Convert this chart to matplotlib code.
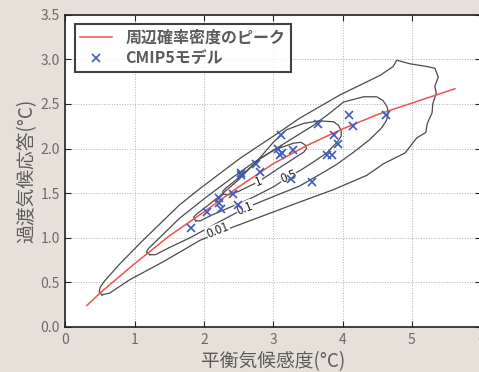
#!/usr/bin/env python
import numpy as np
import matplotlib
matplotlib.use('Agg')
from matplotlib import pyplot as plt

plt.rcParams['font.family'] = ['Noto Sans CJK JP', 'DejaVu Sans']

# peak of the marginal probability density
peak_x = [0.31, 0.5, 1.0, 1.5, 2.0, 2.5, 3.0, 3.5, 4.0, 4.5, 5.0, 5.62]
peak_y = [0.24, 0.38, 0.71, 1.02, 1.29, 1.57, 1.83, 2.04, 2.22, 2.38, 2.51, 2.67]

# CMIP5 models (ECS, TCR)
ecs = [1.82, 2.05, 2.22, 2.21, 2.24, 2.42, 2.49, 2.53, 2.54, 2.75, 2.81, 3.11,
       3.07, 3.09, 3.13, 3.28, 3.25, 3.56, 3.65, 3.77, 3.85, 3.88, 3.93, 4.09,
       4.15, 4.62]
tcr = [1.11, 1.29, 1.45, 1.39, 1.32, 1.49, 1.37, 1.70, 1.73, 1.83, 1.74, 2.15,
       1.99, 1.93, 1.95, 1.98, 1.66, 1.63, 2.27, 1.93, 1.93, 2.15, 2.05, 2.38,
       2.25, 2.38]

# density contours
c001_x = [0.53, 0.49, 0.50, 0.56, 0.79, 1.08, 1.37, 1.65, 1.94, 2.23, 2.52, 2.81,
          3.10, 3.38, 3.67, 3.96, 4.25, 4.54, 4.73, 4.78, 4.97, 5.21, 5.33, 5.38,
          5.33, 5.35, 5.30, 5.29, 5.22, 5.20, 5.07, 4.90, 4.59, 4.35, 3.87, 3.38,
          2.90, 2.42, 2.18, 1.94, 1.41, 0.93, 0.64, 0.53]
c001_y = [0.36, 0.39, 0.44, 0.51, 0.71, 0.94, 1.16, 1.37, 1.55, 1.72, 1.89, 2.04,
          2.19, 2.34, 2.47, 2.60, 2.71, 2.82, 2.92, 2.99, 2.95, 2.92, 2.90, 2.80,
          2.70, 2.62, 2.50, 2.40, 2.28, 2.18, 2.12, 1.95, 1.83, 1.70, 1.54, 1.40,
          1.26, 1.12, 1.05, 0.97, 0.73, 0.53, 0.38, 0.36]
c01_x = [1.22, 1.17, 1.20, 1.32, 1.65, 2.04, 2.42, 2.71, 3.00, 3.29, 3.58, 3.82,
         4.01, 4.30, 4.49, 4.58, 4.64, 4.66, 4.63, 4.56, 4.39, 4.16, 3.91, 3.67,
         3.38, 2.90, 2.59, 2.20, 1.80, 1.50, 1.30, 1.22]
c01_y = [0.81, 0.84, 0.88, 0.97, 1.22, 1.46, 1.68, 1.84, 1.98, 2.12, 2.26, 2.40,
         2.52, 2.58, 2.58, 2.54, 2.47, 2.40, 2.31, 2.23, 2.10, 1.96, 1.82, 1.71,
         1.58, 1.43, 1.33, 1.17, 1.00, 0.89, 0.81, 0.81]
c05_x = [1.88, 1.85, 1.90, 1.97, 2.20, 2.50, 2.80, 3.00, 3.19, 3.43, 3.65, 3.87,
         3.94, 3.98, 3.98, 3.93, 3.77, 3.58, 3.40, 3.22, 3.00, 2.70, 2.40, 2.10,
         1.95, 1.88]
c05_y = [1.19, 1.23, 1.27, 1.31, 1.45, 1.65, 1.89, 2.07, 2.21, 2.28, 2.31, 2.30,
         2.26, 2.20, 2.14, 2.08, 1.95, 1.85, 1.76, 1.68, 1.57, 1.45, 1.35, 1.25,
         1.19, 1.19]
c1_x = [2.28, 2.27, 2.32, 2.50, 2.80, 3.00, 3.29, 3.40, 3.46, 3.48, 3.44, 3.38,
        3.10, 2.79, 2.50, 2.35, 2.28]
c1_y = [1.49, 1.52, 1.56, 1.67, 1.88, 1.98, 2.06, 2.07, 2.04, 2.00, 1.96, 1.93,
        1.79, 1.63, 1.52, 1.48, 1.49]

contour_levels = ['0.01', '0.1', '0.5', '1']
label_x = [2.20, 2.59, 3.22, 2.79]
label_y = [1.08, 1.33, 1.68, 1.63]

ticks_x = [0, 1, 2, 3, 4, 5, 6]
ticks_y = [0.0, 0.5, 1.0, 1.5, 2.0, 2.5, 3.0, 3.5]

bg = '#e7e0d9'
fig = plt.figure(figsize=(4.79, 3.72), dpi=100, facecolor=bg)
ax = fig.add_axes([0.1363, 0.121, 0.8685, 0.8395])

ax.grid(True, color='#b0b0b0', linestyle=':', linewidth=0.7)
ax.set_axisbelow(True)

for cx, cy in ((c001_x, c001_y), (c01_x, c01_y), (c05_x, c05_y), (c1_x, c1_y)):
    ax.plot(cx, cy, color='#4a4a4a', linewidth=0.9, zorder=2)

for t, lx, ly in zip(contour_levels, label_x, label_y):
    ax.text(lx, ly, t, fontsize=8.5, color='#222222', rotation=22,
            ha='center', va='center', zorder=3,
            bbox=dict(facecolor='white', edgecolor='none', pad=0.3))

ax.plot(peak_x, peak_y, color='#f05050', linewidth=1.1, zorder=4,
        label='周辺確率密度のピーク')
ax.plot(ecs, tcr, 'x', color='#3d5ac0', markersize=6, markeredgewidth=1.2,
        zorder=5, label='CMIP5モデル')

ax.set_xlim(0, 6)
ax.set_ylim(0, 3.5)
ax.set_xticks(ticks_x)
ax.set_yticks(ticks_y)
ax.set_xticklabels([str(t) for t in ticks_x])
ax.set_yticklabels(['%.1f' % t for t in ticks_y])
ax.tick_params(direction='in', length=4, width=0.8, colors='#222222',
               labelcolor='#6a6a6a', labelsize=10, top=True, right=True, pad=4)
for s in ax.spines.values():
    s.set_linewidth(1.2)
    s.set_color('#222222')

ax.set_xlabel('平衡気候感度(°C)', fontsize=13.5, color='#5a5a5a', labelpad=3)
ax.set_ylabel('過渡気候応答(°C)', fontsize=13.5, color='#5a5a5a', labelpad=2)

leg = ax.legend(loc='upper left', frameon=True, fancybox=False,
                borderaxespad=0.6, handlelength=2.0, handletextpad=0.8,
                borderpad=0.35, labelspacing=0.3,
                prop={'weight': 'bold', 'size': 11.5})
leg.get_frame().set_edgecolor('#111111')
leg.get_frame().set_linewidth(1.5)
for txt in leg.get_texts():
    txt.set_color('#5a5a5a')

fig.savefig('out.png', dpi=100, facecolor=bg)
